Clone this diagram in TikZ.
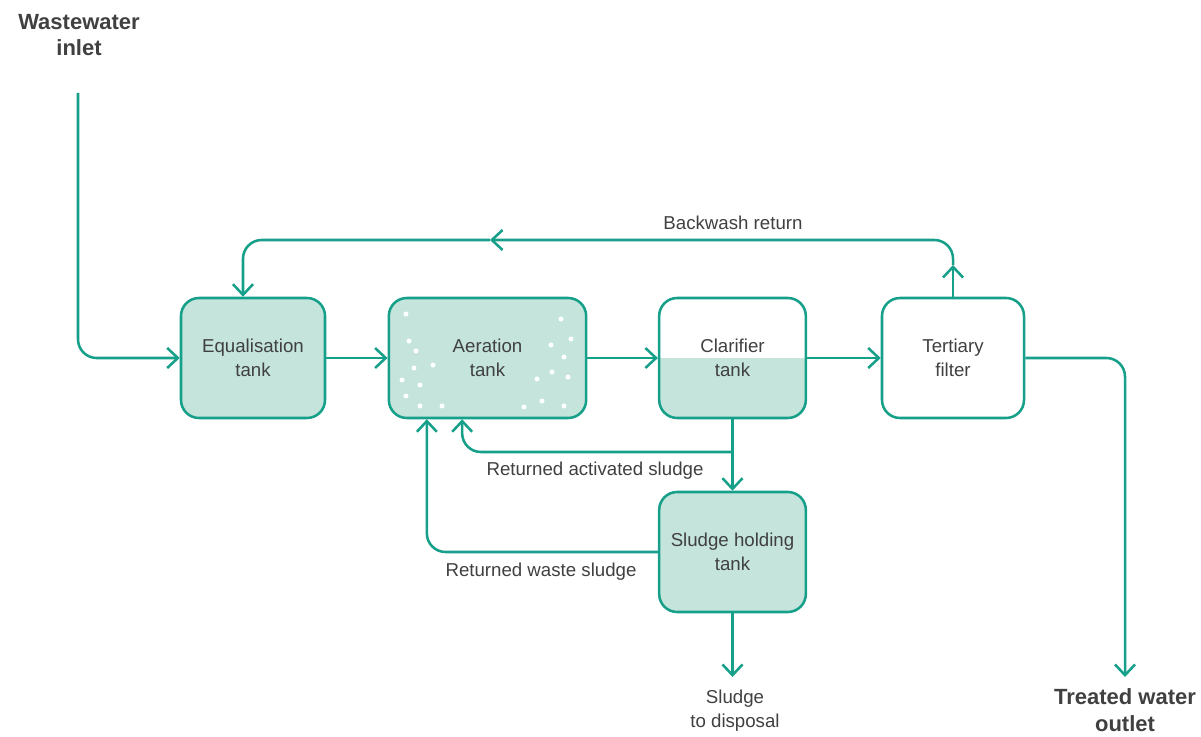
\documentclass[tikz,border=0pt]{standalone}
\usepackage{fontspec}
\setmainfont{Liberation Sans}
\usepackage{xcolor}
\usetikzlibrary{arrows.meta,positioning}
\definecolor{FlowTeal}{HTML}{16A08A}
\definecolor{TankFill}{HTML}{C4E4DC}
\definecolor{InkGrey}{HTML}{404040}

\begin{document}
\begin{tikzpicture}[
  x=0.75pt, y=-0.75pt,
  box/.style={draw=FlowTeal, line width=1.9pt, rounded corners=13.5pt, fill=TankFill,
              minimum width=#1, minimum height=90pt, inner sep=0pt, align=center,
              text=InkGrey, font=\fontsize{14}{18}\selectfont},
  box/.default=108pt,
  arrow/.style={-{Straight Barb[length=8pt,width=15pt]}, line width=1.9pt, draw=FlowTeal,
                rounded corners=14pt},
  lbl/.style={inner sep=0pt, align=center, text=InkGrey, font=\fontsize{14}{18}\selectfont},
  ends/.style={inner sep=0pt, align=center, text=InkGrey, font=\fontsize{16.5}{20}\selectfont\bfseries}
]
\useasboundingbox (0,0) rectangle (1201,737);

% tanks
\node[box] (eq) at (253,358) {Equalisation\\tank};
\node[box=148pt] (aer) at (487.5,358) {Aeration\\tank};
\node[box=110pt, fill=white,
      path picture={\fill[TankFill, sharp corners] (path picture bounding box.west) rectangle (path picture bounding box.south east);}]
      (clar) at (732.5,358) {Clarifier\\tank};
\node[box=106.5pt, fill=white] (tf) at (953,358) {Tertiary\\filter};
\node[box=110pt] (sh) at (732.5,552) {Sludge holding\\tank};

% air bubbles
\foreach \px/\py in {406/314,409/341,416/351,414/368,433/365,402/380,420/385,406/396,420/406,442/406,
                     561/319,571/339,551/345,564/357,552/372,537/379,568/377,542/401,524/407,564/406}
  \fill[white] (\px,\py) circle[radius=1.9pt];

% texts
\node[ends] (intxt) at (79,35) {Wastewater\\inlet};
\node[ends] (outtxt) at (1125,710) {Treated water\\outlet};
\node[lbl] (bwtxt) at (733,223) {Backwash return};
\node[lbl] (rastxt) at (595,471) {Returned activated sludge};
\node[lbl] (wastxt) at (541,572) {Returned waste sludge};
\node[lbl] (disptxt) at (735,711) {Sludge\\to disposal};

% main line
\coordinate (inlet) at (78,93);
\coordinate (outlet) at (1125,677);
\draw[arrow] (inlet) |- (eq.west);
\draw[arrow] (eq) -- (aer);
\draw[arrow] (aer) -- (clar);
\draw[arrow] (clar) -- (tf);
\draw[arrow] (tf.east) -| (outlet);

% backwash
\coordinate (bwup) at (953,265);
\coordinate (bwmid) at (490,240);
\draw[arrow] (tf.north) -- (bwup);
\draw[arrow] (bwup) |- (bwmid);
\draw[arrow] (bwmid) -| ([xshift=-7.5pt]eq.north);

% sludge lines
\coordinate (rasjoin) at (732.5,452);
\coordinate (disp) at (732.5,677);
\draw[arrow] (clar) -- (sh);
\draw[arrow] (rasjoin) -| ([xshift=-19pt]aer.south);
\draw[arrow] (sh.west) -| ([xshift=-45.5pt]aer.south);
\draw[arrow] (sh) -- (disp);
\end{tikzpicture}
\end{document}
